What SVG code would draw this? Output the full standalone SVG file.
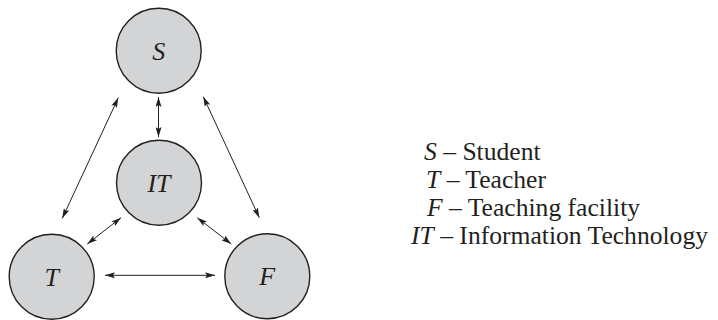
<svg xmlns="http://www.w3.org/2000/svg" width="718" height="320" viewBox="0 0 718 320">
<style>
.node circle{fill:#d3d4d6;stroke:#231f20;stroke-width:1.4}
.node text{font-family:"Liberation Serif",serif;font-style:italic;font-size:26px;fill:#231f20;text-anchor:middle}
.conn line{stroke:#231f20;stroke-width:1;marker-start:url(#ah);marker-end:url(#ah)}
.leg{font-family:"Liberation Serif",serif;font-size:25.6px;fill:#231f20}
.leg .i{font-style:italic}
</style>
<defs>
<marker id="ah" viewBox="0 0 10 6" refX="10" refY="3" markerWidth="10" markerHeight="6" markerUnits="userSpaceOnUse" orient="auto-start-reverse">
<path d="M0,0 L10,3 L0,6 L2,3 Z" fill="#231f20"/>
</marker>
</defs>
<rect width="718" height="320" fill="#fff"/>
<g class="conn">
<line x1="158.5" y1="97" x2="158.5" y2="137"/>
<line x1="118.3" y1="97.7" x2="62.3" y2="218.3"/>
<line x1="203.3" y1="96.7" x2="259.3" y2="217.7"/>
<line x1="121" y1="217.7" x2="87.3" y2="244"/>
<line x1="197.3" y1="217.7" x2="231.3" y2="244"/>
<line x1="105" y1="275.3" x2="215" y2="275.3"/>
</g>
<g id="S" class="node"><circle cx="158.7" cy="50.7" r="42.5"/><text x="158.7" y="59.5">S</text></g>
<g id="IT" class="node"><circle cx="159" cy="182.7" r="42.5"/><text x="159" y="191.5">IT</text></g>
<g id="T" class="node"><circle cx="51.7" cy="276.7" r="42.5"/><text x="51.7" y="285.5">T</text></g>
<g id="F" class="node"><circle cx="267.3" cy="276.3" r="42.5"/><text x="267.3" y="285">F</text></g>
<g id="legend" class="leg">
<text x="424" y="160"><tspan class="i">S</tspan> – Student</text>
<text x="426" y="188"><tspan class="i">T</tspan> – Teacher</text>
<text x="427" y="216"><tspan class="i">F</tspan> – Teaching facility</text>
<text x="411" y="244"><tspan class="i">IT</tspan> – Information Technology</text>
</g>
</svg>
